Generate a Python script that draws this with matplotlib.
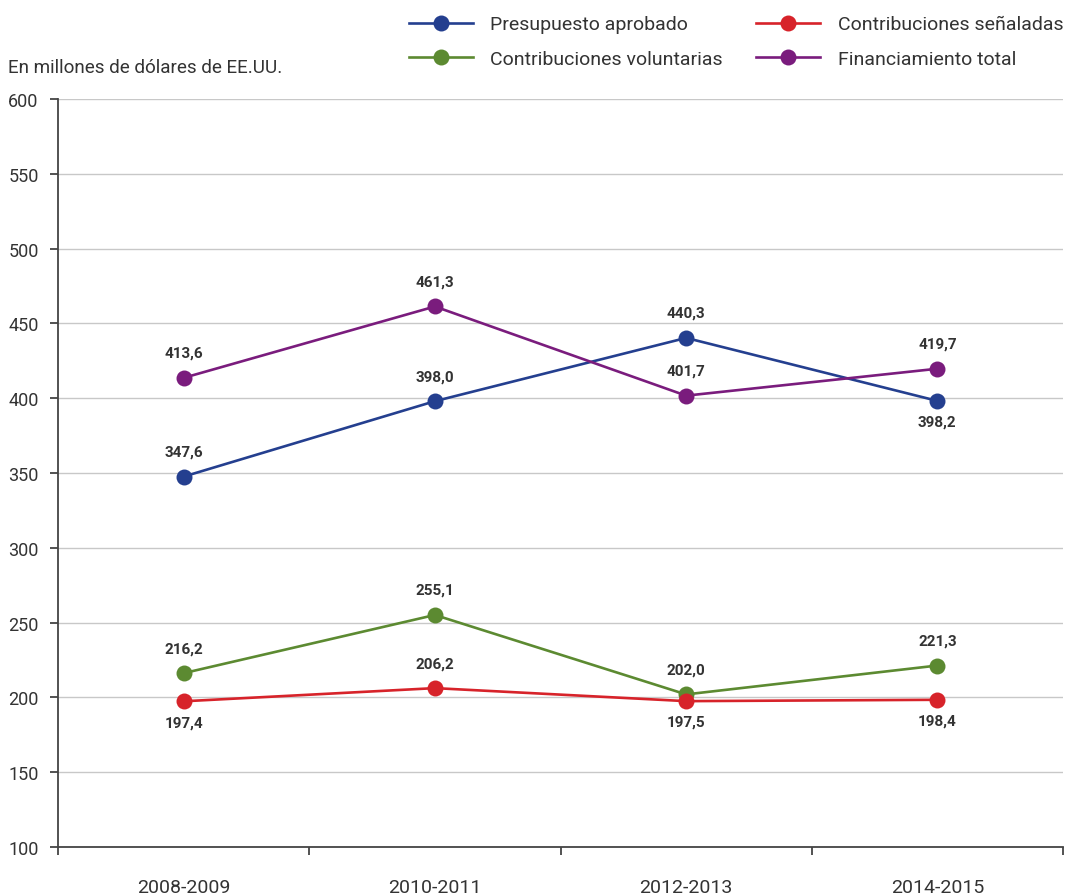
import numpy as np
import matplotlib.pyplot as plt
from matplotlib.ticker import FixedLocator, NullFormatter

plt.rcParams['font.family'] = ['Roboto', 'DejaVu Sans']

periods = ['2008-2009', '2010-2011', '2012-2013', '2014-2015']
presupuesto = [347.6, 398.0, 440.3, 398.2]
senaladas = [197.4, 206.2, 197.5, 198.4]
voluntarias = [216.2, 255.1, 202.0, 221.3]
total = [413.6, 461.3, 401.7, 419.7]

# label placement: +1 above the point, -1 below
pos_presupuesto = [1, 1, 1, -1]
pos_senaladas = [-1, 1, -1, -1]
pos_voluntarias = [1, 1, 1, 1]
pos_total = [1, 1, 1, 1]

series = [
    ('Presupuesto aprobado', presupuesto, pos_presupuesto, '#243f8f'),
    ('Contribuciones voluntarias', voluntarias, pos_voluntarias, '#5c8a31'),
    ('Contribuciones señaladas', senaladas, pos_senaladas, '#d7232a'),
    ('Financiamiento total', total, pos_total, '#7a1c7d'),
]

fig = plt.figure(figsize=(10.7, 8.95), dpi=100)
ax = fig.add_axes([58 / 1070, 47 / 895, 1005 / 1070, 748 / 895])

x = np.arange(len(periods)) + 0.5
handles = []
for name, vals, pos, col in series:
    h, = ax.plot(x, vals, color=col, lw=1.9, marker='o', ms=11.5,
                 markeredgewidth=0, label=name, zorder=3, clip_on=False)
    handles.append(h)
    for xi, v, p in zip(x, vals, pos):
        off = 18 if p > 0 else -15
        ax.annotate(f'{v:.1f}'.replace('.', ','), (xi, v), xytext=(0, off),
                    textcoords='offset points', ha='center', va='center',
                    fontsize=11, fontweight='bold', color='#333333')

ax.set_xlim(0, len(periods))
ax.set_ylim(100, 600)
ax.set_yticks(np.arange(100, 601, 50))
ax.yaxis.grid(True, color='#c8c8c8', lw=1)
ax.set_axisbelow(True)

ax.xaxis.set_major_locator(FixedLocator(np.arange(len(periods) + 1)))
ax.xaxis.set_major_formatter(NullFormatter())
ax.xaxis.set_minor_locator(FixedLocator(x))
ax.set_xticklabels(periods, minor=True)
ax.tick_params(axis='x', which='major', length=6, width=1.3, color='#444444', direction='out')
ax.tick_params(axis='x', which='minor', length=0, pad=22, labelsize=14, labelcolor='#333333')
ax.tick_params(axis='y', length=6, width=1.3, color='#444444', pad=8,
               labelsize=13, labelcolor='#333333')

for s in ['top', 'right']:
    ax.spines[s].set_visible(False)
for s in ['left', 'bottom']:
    ax.spines[s].set_color('#444444')
    ax.spines[s].set_linewidth(1.3)

fig.text(8 / 1070, 1 - 68 / 895, 'En millones de dólares de EE.UU.', fontsize=13.6,
         color='#333333', va='center', ha='left')

fig.legend(handles=handles, ncol=2, loc='upper left',
           bbox_to_anchor=(391 / 1070, 1 + 1 / 895), frameon=False,
           fontsize=14, handlelength=3.3, handletextpad=0.9,
           columnspacing=1.7, labelspacing=0.86, labelcolor='#333333')

fig.savefig('out.png', dpi=100)
